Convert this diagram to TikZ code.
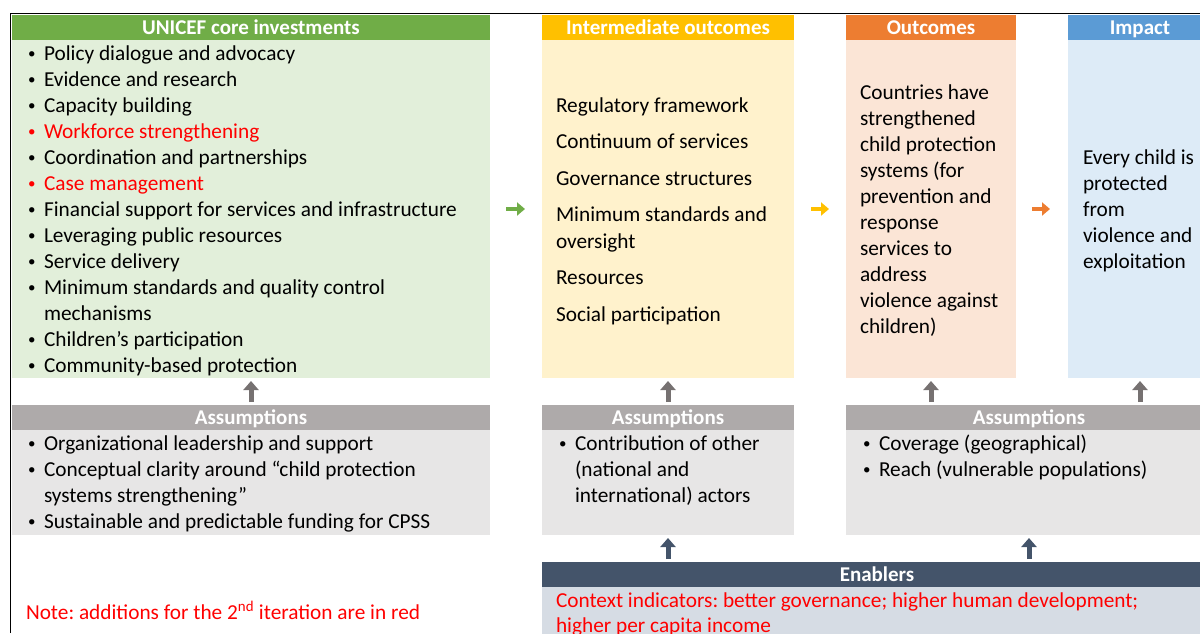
\documentclass[tikz,border=0pt]{standalone}
\usepackage{fontspec}
\setmainfont{Carlito}
\usetikzlibrary{arrows.meta}
\frenchspacing

\definecolor{hgreen}{HTML}{70AD47}
\definecolor{bgreen}{HTML}{E2EFDA}
\definecolor{hyellow}{HTML}{FFC000}
\definecolor{byellow}{HTML}{FFF2CC}
\definecolor{horange}{HTML}{ED7D31}
\definecolor{borange}{HTML}{FBE5D6}
\definecolor{hblue}{HTML}{5B9BD5}
\definecolor{bblue}{HTML}{DDEBF7}
\definecolor{hgray}{HTML}{AEAAAA}
\definecolor{bgray}{HTML}{E7E6E6}
\definecolor{hslate}{HTML}{44546A}
\definecolor{bslate}{HTML}{D6DCE4}
\definecolor{arrgray}{HTML}{767171}
\definecolor{notered}{HTML}{FF0000}

% small bullet with hanging text
\newcommand{\itm}{\makebox[16pt][l]{\raisebox{1.2pt}{\fontsize{15}{15}\selectfont\textbullet}}}
\newcommand{\cont}{\hspace*{16pt}}
% block of lines whose reference point is the first baseline
\newcommand{\lines}[1]{\begin{tabular}[t]{@{}l@{}}#1\end{tabular}}

\tikzset{
  panel/.style={rectangle, inner sep=0pt, outer sep=0pt, anchor=north west},
  head/.style={panel, minimum height=25pt, text=white, text depth=0pt,
    font=\fontsize{21}{22}\selectfont\bfseries},
  txt/.style={anchor=base west, inner sep=0pt, outer sep=0pt,
    font=\fontsize{21.3}{26}\selectfont},
  uparr/.style={draw=arrgray, line width=5pt,
    -{Triangle[length=9pt,width=15pt]}, shorten <=3pt, shorten >=3pt},
  uparrdark/.style={uparr, draw=hslate},
  harr/.style={line width=4pt, -{Triangle[length=8pt,width=13pt]}},
}

\begin{document}
\begin{tikzpicture}[x=1pt,y=-1pt]
\useasboundingbox (0,0) rectangle (1200,633);

% ---- result chain panels ----
\node[panel, fill=bgreen,  minimum width=478pt, minimum height=338pt] (invest) at (12,40) {};
\node[head,  fill=hgreen,  minimum width=478pt] (investH) at (12,15) {UNICEF core investments};

\node[panel, fill=byellow, minimum width=252pt, minimum height=338pt] (interm) at (542,40) {};
\node[head,  fill=hyellow, minimum width=252pt] (intermH) at (542,15) {Intermediate outcomes};

\node[panel, fill=borange, minimum width=170pt, minimum height=338pt] (outc) at (846,40) {};
\node[head,  fill=horange, minimum width=170pt] (outcH) at (846,15) {Outcomes};

\node[panel, fill=bblue,   minimum width=144pt, minimum height=338pt] (impact) at (1068,40) {};
\node[head,  fill=hblue,   minimum width=144pt] (impactH) at (1068,15) {Impact};

% ---- assumptions ----
\node[head,  fill=hgray, minimum width=478pt] (assLH) at (12,405) {Assumptions};
\node[panel, fill=bgray, minimum width=478pt, minimum height=105pt] (assL) at (12,430) {};
\node[head,  fill=hgray, minimum width=252pt] (assMH) at (542,405) {Assumptions};
\node[panel, fill=bgray, minimum width=252pt, minimum height=105pt] (assM) at (542,430) {};
\node[head,  fill=hgray, minimum width=366pt] (assRH) at (846,405) {Assumptions};
\node[panel, fill=bgray, minimum width=366pt, minimum height=105pt] (assR) at (846,430) {};

% ---- enablers ----
\node[head,  fill=hslate, minimum width=670pt] (enabH) at (542,562) {Enablers};
\node[panel, fill=bslate, minimum width=670pt, minimum height=70pt] (enab) at (542,587) {};

% ---- frame lines ----
\draw[line width=1.3pt] (10.5,633) -- (10.5,13.5) -- (1200,13.5);

% ---- texts ----
\node[txt] (investT) at (28,60) {\lines{%
\itm Policy dialogue and advocacy\\
\itm Evidence and research\\
\itm Capacity building\\
{\color{notered}\itm Workforce strengthening}\\
\itm Coordination and partnerships\\
{\color{notered}\itm Case management}\\
\itm Financial support for services and infrastructure\\
\itm Leveraging public resources\\
\itm Service delivery\\
\itm Minimum standards and quality control\\
\cont mechanisms\\
\itm Children’s participation\\
\itm Community-based protection}};

\node[txt, font=\fontsize{21.3}{26.5}\selectfont] (intermT) at (556,112) {\lines{%
Regulatory framework\\[10pt]
Continuum of services\\[10pt]
Governance structures\\[10pt]
Minimum standards and\\
oversight\\[10pt]
Resources\\[10pt]
Social participation}};

\node[txt] (outcT) at (860,99) {\lines{%
Countries have\\
strengthened\\
child protection\\
systems (for\\
prevention and\\
response\\
services to\\
address\\
violence against\\
children)}};

\node[txt] (impactT) at (1083,164) {\lines{%
Every child is\\
protected\\
from\\
violence and\\
exploitation}};

\node[txt] (assLT) at (28,450) {\lines{%
\itm Organizational leadership and support\\
\itm Conceptual clarity around “child protection\\
\cont systems strengthening”\\
\itm Sustainable and predictable funding for CPSS}};

\node[txt] (assMT) at (559,450) {\lines{%
\itm Contribution of other\\
\cont (national and\\
\cont international) actors}};

\node[txt] (assRT) at (863,450) {\lines{%
\itm Coverage (geographical)\\
\itm Reach (vulnerable populations)}};

\node[txt, text=notered, font=\fontsize{21.3}{25.5}\selectfont] (enabT) at (556,607) {\lines{%
Context indicators: better governance; higher human development;\\
higher per capita income}};

\node[txt, text=notered] (note) at (26,619) {Note: additions for the 2\textsuperscript{nd} iteration are in red};

% ---- connectors ----
\draw[harr, draw=hgreen,  shorten <=16pt, shorten >=17pt] (invest.east) -- (interm.west);
\draw[harr, draw=hyellow, shorten <=17pt, shorten >=17pt] (interm.east) -- (outc.west);
\draw[harr, draw=horange, shorten <=16pt, shorten >=18pt] (outc.east) -- (impact.west);

\draw[uparr] (assLH.north) -- (invest.south);
\draw[uparr] (assMH.north) -- (interm.south);
\draw[uparr] (assRH.north -| outc.south) -- (outc.south);
\draw[uparr] (assRH.north -| impact.south) -- (impact.south);

\draw[uparrdark] (enabH.north -| assM.south) -- (assM.south);
\draw[uparrdark] (enabH.north -| assR.south) -- (assR.south);
\end{tikzpicture}
\end{document}
